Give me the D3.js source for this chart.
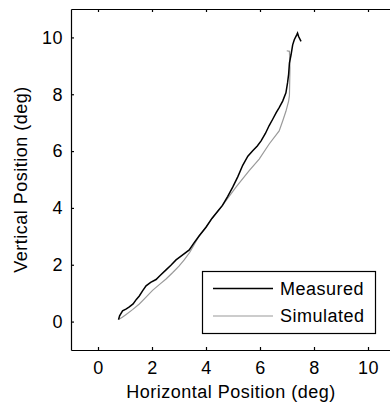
<!DOCTYPE html>
<html>
<head>
<meta charset="utf-8">
<script src="https://cdn.jsdelivr.net/npm/d3@7"></script>
<style>
  html, body { margin: 0; padding: 0; background: #fff; }
  svg { display: block; }
  text { font-family: "Liberation Sans", Arial, sans-serif; }
</style>
</head>
<body>
<script>
// ---- data ----
const xTicks = [0, 2, 4, 6, 8, 10];
const yTicks = [0, 2, 4, 6, 8, 10];
const seriesNames = ["Measured", "Simulated"];
const measuredX = [0.76, 0.80, 0.91, 1.05, 1.16, 1.30, 1.42, 1.53, 1.65, 1.78, 1.95, 2.15, 2.30, 2.52, 2.70, 2.89, 3.10, 3.38, 3.55, 3.75, 4.00, 4.22, 4.45, 4.61, 4.80, 4.99, 5.18, 5.36, 5.55, 5.73, 5.90, 6.04, 6.20, 6.34, 6.47, 6.60, 6.71, 6.84, 6.96, 7.02, 7.06, 7.09, 7.15, 7.21, 7.27, 7.36, 7.39, 7.43, 7.52];
const measuredY = [0.07, 0.20, 0.38, 0.45, 0.52, 0.62, 0.78, 0.90, 1.08, 1.26, 1.38, 1.48, 1.62, 1.82, 1.98, 2.17, 2.32, 2.52, 2.76, 3.02, 3.32, 3.63, 3.90, 4.09, 4.40, 4.73, 5.10, 5.50, 5.82, 6.01, 6.18, 6.36, 6.62, 6.90, 7.12, 7.35, 7.53, 7.76, 8.05, 8.40, 8.70, 9.10, 9.39, 9.74, 9.92, 10.09, 10.15, 10.03, 9.86];
const simulatedX = [0.76, 0.90, 1.03, 1.28, 1.53, 1.78, 2.02, 2.27, 2.52, 2.76, 3.00, 3.20, 3.40, 3.75, 4.00, 4.22, 4.61, 5.11, 5.60, 5.97, 6.34, 6.71, 6.84, 6.96, 7.06, 7.09, 7.11, 7.09, 6.99];
const simulatedY = [0.07, 0.15, 0.24, 0.42, 0.62, 0.86, 1.10, 1.30, 1.50, 1.72, 1.95, 2.18, 2.44, 3.02, 3.32, 3.63, 4.09, 4.73, 5.31, 5.72, 6.25, 6.71, 7.06, 7.40, 7.76, 7.95, 8.93, 9.51, 9.53];
const xLabel = "Horizontal Position (deg)";
const yLabel = "Vertical Position (deg)";

// ---- layout ----
const W = 390, H = 407;
const m = { left: 71, top: 9, right: 395, bottom: 350 };
const FS = 18;

const svg = d3.select("body").append("svg").attr("width", W).attr("height", H);

const x = d3.scaleLinear().domain([-1, 11]).range([m.left, m.right]);
const y = d3.scaleLinear().domain([-1, 11]).range([m.bottom, m.top]);

// axes
const gx = svg.append("g").attr("transform", `translate(0,${m.bottom})`)
  .call(d3.axisBottom(x).tickValues(xTicks).tickSizeInner(-3).tickSizeOuter(0).tickPadding(11));
const gxt = svg.append("g").attr("transform", `translate(0,${m.top})`)
  .call(d3.axisTop(x).tickValues(xTicks).tickSizeInner(-3).tickSizeOuter(0).tickFormat(""));
const gy = svg.append("g").attr("transform", `translate(${m.left},0)`)
  .call(d3.axisLeft(y).tickValues(yTicks).tickSizeInner(-3).tickSizeOuter(0).tickPadding(8));
const gyr = svg.append("g").attr("transform", `translate(${m.right},0)`)
  .call(d3.axisRight(y).tickValues(yTicks).tickSizeInner(-3).tickSizeOuter(0).tickFormat(""));

[gx, gxt, gy, gyr].forEach(g => {
  g.selectAll("path.domain").attr("stroke", "#000").attr("stroke-width", 1.2);
  g.selectAll(".tick line").attr("stroke", "#000").attr("stroke-width", 1.2);
  g.selectAll(".tick text").attr("fill", "#000").style("font-size", FS + "px")
    .style("font-family", '"Liberation Sans", Arial, sans-serif').style("letter-spacing", "0.5px");
});

// lines
const line = d3.line().x(d => x(d[0])).y(d => y(d[1]));
const measured = measuredX.map((v, i) => [v, measuredY[i]]);
const simulated = simulatedX.map((v, i) => [v, simulatedY[i]]);

svg.append("path").datum(simulated).attr("d", line)
  .attr("fill", "none").attr("stroke", "#9a9a9a").attr("stroke-width", 1.2);
svg.append("path").datum(measured).attr("d", line)
  .attr("fill", "none").attr("stroke", "#000").attr("stroke-width", 1.5);

// axis titles
svg.append("text").attr("x", (m.left + 391) / 2).attr("y", 398)
  .attr("text-anchor", "middle").style("font-size", FS + "px").style("letter-spacing", "0.5px")
  .text(xLabel);
svg.append("text").attr("transform", `translate(27,${(m.top + m.bottom) / 2}) rotate(-90)`)
  .attr("text-anchor", "middle").style("font-size", FS + "px").style("letter-spacing", "0.5px")
  .text(yLabel);

// legend
const lg = svg.append("g");
lg.append("rect").attr("x", 202.5).attr("y", 271.5).attr("width", 173).attr("height", 62)
  .attr("fill", "#fff").attr("stroke", "#000").attr("stroke-width", 1.2);
const legendColors = ["#000", "#9a9a9a"];
const legendWidths = [1.5, 1.2];
seriesNames.forEach((name, i) => {
  const ly = 288.5 + i * 27.5;
  lg.append("line").attr("x1", 213).attr("x2", 273).attr("y1", ly).attr("y2", ly)
    .attr("stroke", legendColors[i]).attr("stroke-width", legendWidths[i]);
  lg.append("text").attr("x", 280).attr("y", ly).attr("dy", "0.36em")
    .style("font-size", FS + "px").style("letter-spacing", "0.5px").text(name);
});
</script>
</body>
</html>
